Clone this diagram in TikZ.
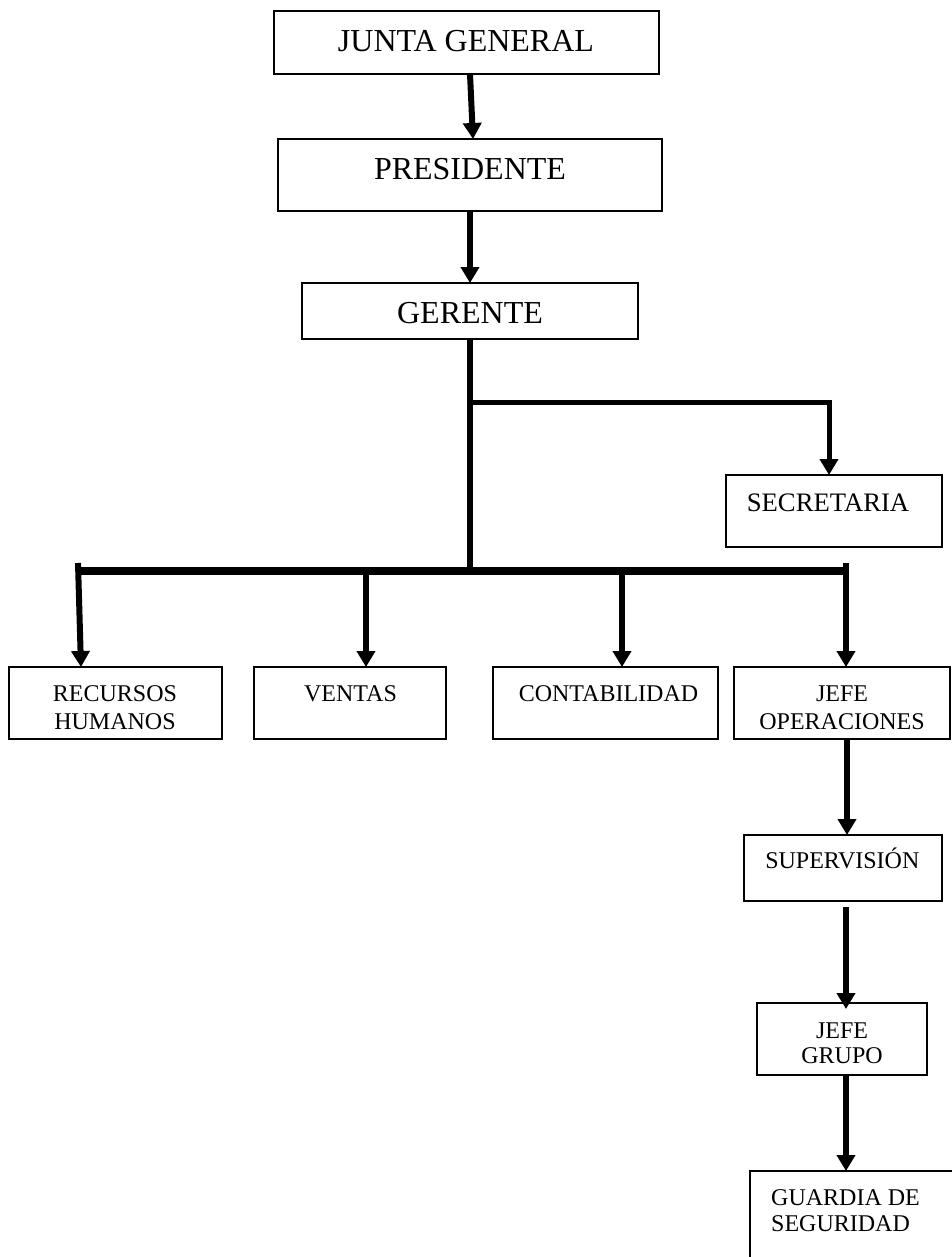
\documentclass[tikz,border=0pt]{standalone}
\usepackage{fontspec}
\setmainfont{Liberation Serif}
\usetikzlibrary{arrows.meta}
\tikzset{
  box/.style={draw, line width=2pt, inner sep=0pt, outer sep=0pt},
  arr/.style={line width=6pt, -{Triangle[width=18pt,length=16pt]}},
  lbl/.style={inner sep=0pt, anchor=base},
  big/.style={font=\fontsize{32}{38}\selectfont},
  mid/.style={font=\fontsize{26.67}{30}\selectfont},
  sml/.style={font=\fontsize{24}{28}\selectfont},
  smlb/.style={font=\fontsize{24}{25}\selectfont},
  smlc/.style={font=\fontsize{24}{26}\selectfont},
}
\begin{document}
\begin{tikzpicture}[x=1pt,y=-1pt]
\useasboundingbox (0,0) rectangle (952,1257);
% boxes
\node[box, minimum width=385, minimum height=63] (jg)  at (466.5,42.5) {};
\node[box, minimum width=384, minimum height=72] (pres) at (470,175) {};
\node[box, minimum width=336, minimum height=56] (ger) at (470,311) {};
\node[box, minimum width=216, minimum height=72] (sec) at (834,511) {};
\node[box, minimum width=213, minimum height=72] (rh)  at (115.5,703) {};
\node[box, minimum width=192, minimum height=72] (ven) at (350,703) {};
\node[box, minimum width=225, minimum height=72] (con) at (605.5,703) {};
\node[box, minimum width=216, minimum height=72] (jop) at (842,703) {};
\node[box, minimum width=198, minimum height=66] (sup) at (843,868) {};
\node[box, minimum width=170, minimum height=72] (jgr) at (842,1039) {};
\node[box, minimum width=220, minimum height=110] (gua) at (860,1226) {};
% texts
\node[lbl,big] (tjg) at (466,52) {JUNTA GENERAL};
\node[lbl,big] (tpres) at (470,179.3) {PRESIDENTE};
\node[lbl,big] (tger) at (470,323) {GERENTE};
\node[lbl,mid] (tsec) at (828,511.3) {SECRETARIA};
\node[lbl,sml] (trh) at (115,701) {\begin{tabular}[t]{@{}c@{}}RECURSOS\\HUMANOS\end{tabular}};
\node[lbl,sml] (tven) at (350.5,701) {VENTAS};
\node[lbl,sml] (tcon) at (608.5,701) {CONTABILIDAD};
\node[lbl,sml] (tjop) at (842,701) {\begin{tabular}[t]{@{}c@{}}JEFE\\OPERACIONES\end{tabular}};
\node[lbl,sml] (tsup) at (842.3,868) {SUPERVISIÓN};
\node[lbl,smlb] (tjgr) at (842,1038) {\begin{tabular}[t]{@{}c@{}}JEFE\\GRUPO\end{tabular}};
\node[lbl,smlc,anchor=base west] (tgua) at (771,1205) {\begin{tabular}[t]{@{}l@{}}GUARDIA DE\\SEGURIDAD\end{tabular}};
% junction coordinates
\coordinate (tj) at (470,402);
\coordinate (bl) at (77,571);
\coordinate (br) at (849,571);
\coordinate (b1) at (78,563);
\coordinate (b2) at (366,571);
\coordinate (b3) at (622,571);
\coordinate (b4) at (846,563);
% connectors
\draw[arr] ([xshift=3.5pt]jg.south) -- ([xshift=3pt]pres.north);
\draw[arr] (pres.south) -- (ger.north);
\draw[line width=6pt] (ger.south) -- (470,574);
\draw[line width=5pt, -{Triangle[width=18pt,length=16pt]}] (tj) -| ([xshift=-5pt]sec.north);
\draw[line width=8pt] (bl) -- (br);
\draw[arr] (b1) -- ([xshift=-34.5pt]rh.north);
\draw[arr] (b2) -- (b2 |- ven.north);
\draw[arr] (b3) -- (b3 |- con.north);
\draw[arr] (b4) -- (b4 |- jop.north);
\draw[arr] ([xshift=5pt]jop.south) -- ([xshift=5pt]jop.south |- sup.north);
\draw[arr] ([xshift=3pt,yshift=-6pt]sup.south) -- ([xshift=3pt,yshift=-6pt]sup.south |- jgr.north);
\draw[arr] ([xshift=4pt]jgr.south) -- ([xshift=4pt]jgr.south |- gua.north);
\end{tikzpicture}
\end{document}
